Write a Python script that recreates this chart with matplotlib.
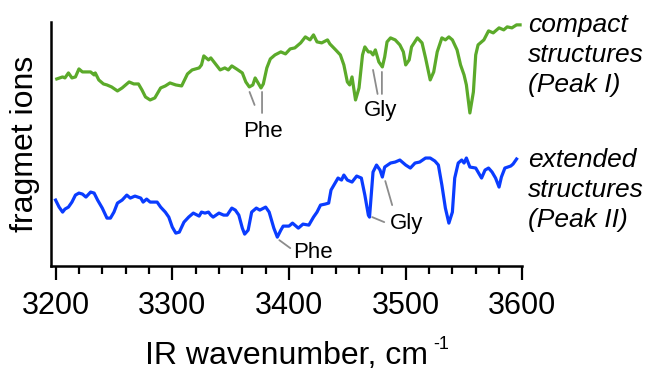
import matplotlib
matplotlib.use("Agg")
import matplotlib.pyplot as plt

plt.rcParams['font.family'] = ['Liberation Sans', 'DejaVu Sans']

# compact structures (Peak I), green trace
wn_compact = [3201, 3206, 3208, 3211, 3214, 3217, 3220, 3223, 3227, 3230, 3233, 3234,
              3237, 3241, 3244, 3248, 3253, 3257, 3263, 3267, 3271, 3274, 3277, 3281,
              3285, 3290, 3294, 3298, 3303, 3308, 3313, 3317, 3323, 3325, 3327, 3331,
              3333, 3337, 3341, 3345, 3348, 3351, 3355, 3360, 3363, 3366, 3369, 3371,
              3373, 3376, 3378, 3381, 3384, 3388, 3393, 3397, 3401, 3405, 3410, 3414,
              3418, 3421, 3424, 3428, 3433, 3435, 3440, 3444, 3447, 3450, 3452, 3454,
              3457, 3460, 3463, 3465, 3468, 3470, 3472, 3474, 3477, 3480, 3482, 3484,
              3487, 3491, 3495, 3498, 3500, 3503, 3505, 3510, 3514, 3517, 3521, 3524,
              3527, 3531, 3534, 3537, 3540, 3544, 3547, 3550, 3552, 3555, 3558, 3560,
              3562, 3567, 3571, 3575, 3580, 3584, 3587, 3591, 3595, 3598]
int_compact = [1.91, 1.93, 1.92, 1.97, 1.92, 1.93, 2.01, 1.98, 1.98, 1.98, 1.95, 1.97,
               1.90, 1.86, 1.85, 1.83, 1.79, 1.82, 1.88, 1.86, 1.86, 1.80, 1.73, 1.70,
               1.72, 1.82, 1.84, 1.87, 1.85, 1.84, 1.96, 2.00, 2.02, 2.05, 2.14, 2.10,
               2.12, 2.06, 2.00, 2.02, 2.00, 2.04, 2.01, 1.97, 1.88, 1.83, 1.85, 1.92,
               1.88, 1.82, 1.86, 2.02, 2.11, 2.15, 2.18, 2.16, 2.21, 2.22, 2.27, 2.33,
               2.30, 2.35, 2.28, 2.27, 2.30, 2.26, 2.20, 2.15, 2.05, 1.88, 1.85, 1.93,
               1.70, 1.82, 2.15, 2.23, 2.18, 2.18, 2.15, 2.20, 2.08, 2.03, 2.13, 2.28,
               2.32, 2.30, 2.25, 2.18, 2.05, 2.10, 2.23, 2.32, 2.27, 2.12, 1.90, 1.98,
               2.18, 2.32, 2.30, 2.33, 2.30, 2.20, 2.05, 1.95, 1.85, 1.57, 1.78, 2.15,
               2.25, 2.30, 2.39, 2.37, 2.42, 2.40, 2.43, 2.42, 2.45, 2.45]

# extended structures (Peak II), blue trace
wn_extended = [3200, 3203, 3206, 3208, 3211, 3214, 3217, 3220, 3223, 3226, 3230, 3233,
               3236, 3240, 3244, 3247, 3250, 3253, 3257, 3261, 3264, 3268, 3273, 3275,
               3278, 3281, 3287, 3290, 3294, 3297, 3300, 3303, 3306, 3310, 3314, 3318,
               3323, 3325, 3328, 3331, 3333, 3335, 3340, 3344, 3347, 3351, 3354, 3357,
               3360, 3362, 3365, 3368, 3372, 3375, 3380, 3383, 3387, 3390, 3393, 3395,
               3400, 3403, 3408, 3412, 3417, 3421, 3424, 3427, 3431, 3434, 3436, 3440,
               3442, 3445, 3447, 3450, 3454, 3458, 3462, 3465, 3468, 3469, 3472, 3475,
               3478, 3480, 3482, 3487, 3491, 3495, 3500, 3504, 3508, 3512, 3517, 3521,
               3525, 3528, 3531, 3534, 3537, 3540, 3542, 3545, 3548, 3550, 3552, 3555,
               3560, 3562, 3565, 3568, 3571, 3574, 3577, 3580, 3582, 3585, 3590, 3592,
               3595]
int_extended = [0.70, 0.63, 0.58, 0.61, 0.63, 0.68, 0.75, 0.77, 0.76, 0.73, 0.78, 0.77,
                0.70, 0.62, 0.52, 0.52, 0.58, 0.67, 0.70, 0.75, 0.72, 0.74, 0.72, 0.68,
                0.71, 0.68, 0.68, 0.63, 0.58, 0.53, 0.43, 0.37, 0.38, 0.48, 0.53, 0.57,
                0.54, 0.58, 0.57, 0.58, 0.55, 0.53, 0.57, 0.55, 0.55, 0.62, 0.60, 0.55,
                0.42, 0.36, 0.40, 0.58, 0.62, 0.60, 0.63, 0.58, 0.42, 0.33, 0.40, 0.44,
                0.44, 0.47, 0.42, 0.46, 0.45, 0.53, 0.58, 0.65, 0.66, 0.67, 0.80, 0.88,
                0.92, 0.90, 0.95, 0.90, 0.88, 0.94, 0.92, 0.75, 0.55, 0.53, 0.98, 1.05,
                1.00, 0.93, 1.03, 1.07, 1.08, 1.10, 1.05, 1.02, 1.07, 1.08, 1.12, 1.12,
                1.09, 1.05, 0.85, 0.62, 0.47, 0.58, 0.92, 1.07, 1.10, 1.07, 1.12, 1.03,
                1.02, 0.98, 0.92, 1.00, 1.02, 0.98, 0.92, 0.83, 0.93, 1.02, 1.04, 1.06,
                1.11]

green = '#5BAA2A'
blue = '#0A3CFF'
grey = '#8C8C8C'

fig = plt.figure(figsize=(6.53, 3.77), dpi=100)
ax = fig.add_axes([0.078, 0.294, 0.722, 0.648])

ax.plot(wn_compact, int_compact, color=green, lw=2.3)
ax.plot(wn_extended, int_extended, color=blue, lw=2.3)

ax.set_xlim(3196, 3600)
ax.set_ylim(0.04, 2.48)
ax.set_xticks([3200, 3300, 3400, 3500, 3600])
ax.set_xticks(range(3200, 3601, 20), minor=True)
ax.set_yticks([])
ax.tick_params(axis='x', which='major', length=10, width=1.6, labelsize=22, pad=8)
ax.tick_params(axis='x', which='minor', length=6, width=1.6)
for s in ['top', 'right']:
    ax.spines[s].set_visible(False)
for s in ['left', 'bottom']:
    ax.spines[s].set_linewidth(1.8)

ax.set_xlabel('IR wavenumber, cm', fontsize=23, labelpad=14)
fig.text(433 / 653, 1 - 349 / 377, '-1', fontsize=13, ha='left', va='baseline')
ax.set_ylabel('fragmet ions', fontsize=23, labelpad=8)

# peak labels with leader lines
line_kw = dict(arrowstyle='-', color=grey, lw=1.3, shrinkA=0, shrinkB=0)
leaders = [((3366.2, 1.78), (3370.5, 1.65)), ((3376.9, 1.78), (3376.9, 1.57)),
           ((3472.0, 2.00), (3475.9, 1.76)), ((3479.6, 1.98), (3479.6, 1.76)),
           ((3391.7, 0.30), (3401.1, 0.22)),
           ((3471.3, 0.53), (3481.6, 0.48)), ((3482.5, 0.89), (3488.4, 0.65))]
for a, b in leaders:
    ax.annotate('', xy=a, xytext=b, arrowprops=line_kw, annotation_clip=False)

ax.text(3377.3, 1.33, 'Phe', fontsize=16, ha='center', va='baseline')
ax.text(3478.2, 1.54, 'Gly', fontsize=16, ha='center', va='baseline')
ax.text(3420.4, 0.12, 'Phe', fontsize=16, ha='center', va='baseline')
ax.text(3500.4, 0.41, 'Gly', fontsize=16, ha='center', va='baseline')

ax.text(3605, 2.15, 'compact\nstructures\n(Peak I)', fontsize=19, style='italic',
        ha='left', va='center', linespacing=1.33, clip_on=False)
ax.text(3605, 0.80, 'extended\nstructures\n(Peak II)', fontsize=19, style='italic',
        ha='left', va='center', linespacing=1.33, clip_on=False)

fig.savefig('out.png', dpi=100)
